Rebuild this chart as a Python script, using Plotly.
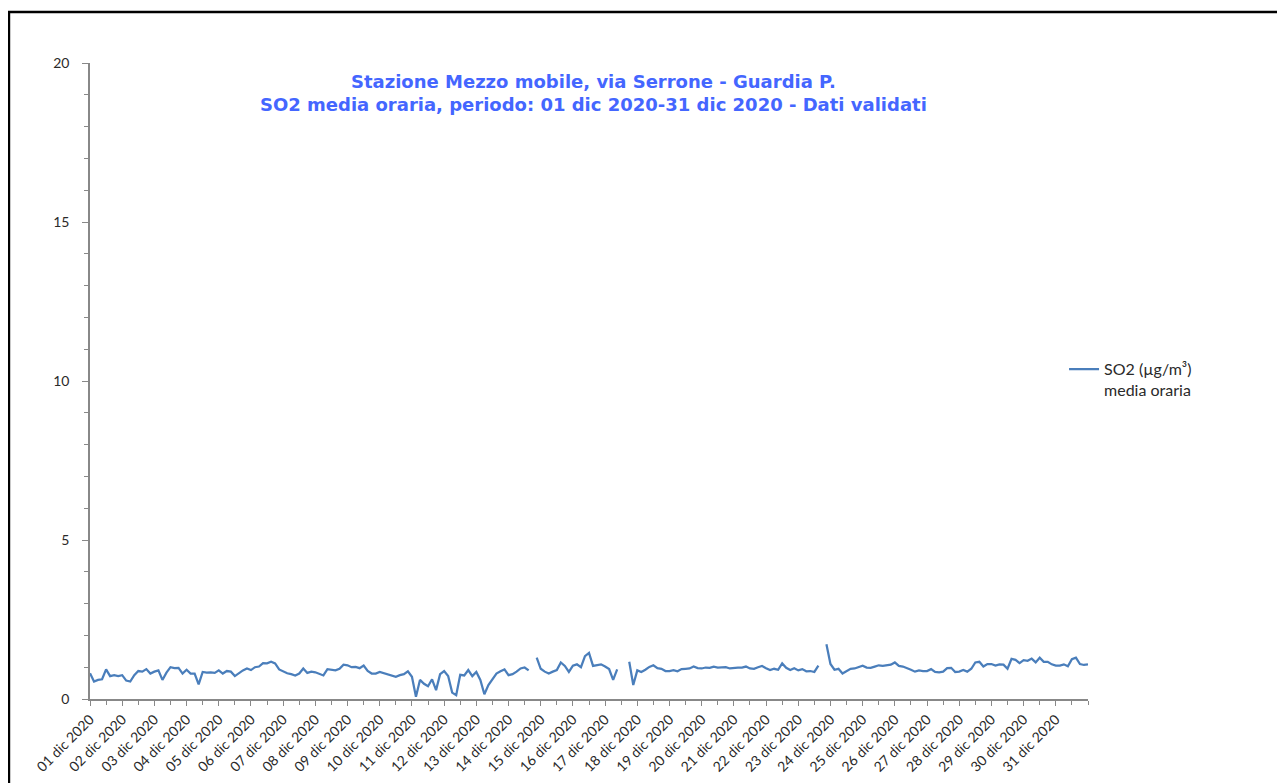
import plotly.graph_objects as go
import pandas as pd

# 3-hourly SO2 readings (µg/m³), 01 dic 2020 00:00 -> 01 gen 2021 00:00
so2_part1 = [0.81, 0.55, 0.60, 0.62, 0.93, 0.72, 0.75, 0.72, 0.75, 0.58, 0.55, 0.75, 0.88, 0.86, 0.94, 0.80,
             0.86, 0.90, 0.60, 0.83, 1.00, 0.97, 0.98, 0.80, 0.92, 0.80, 0.80, 0.46, 0.85, 0.83, 0.84, 0.82,
             0.90, 0.80, 0.88, 0.86, 0.72, 0.82, 0.90, 0.96, 0.91, 1.00, 1.02, 1.13, 1.12, 1.17, 1.12, 0.93,
             0.86, 0.81, 0.78, 0.74, 0.80, 0.96, 0.82, 0.86, 0.84, 0.80, 0.74, 0.94, 0.91, 0.90, 0.95, 1.08]
so2_part2 = [1.06, 1.00, 1.01, 0.97, 1.05, 0.88, 0.80, 0.80, 0.85, 0.81, 0.76, 0.74, 0.70, 0.75, 0.78, 0.87,
             0.70, 0.07, 0.60, 0.48, 0.40, 0.62, 0.28, 0.78, 0.88, 0.72, 0.20, 0.12, 0.76, 0.74, 0.91, 0.72,
             0.85, 0.60, 0.15, 0.44, 0.62, 0.80, 0.87, 0.93, 0.75, 0.78, 0.86, 0.96, 0.99, 0.90, None, 1.30,
             0.95, 0.86, 0.80, 0.86, 0.91, 1.15, 1.04, 0.85, 1.05, 1.09, 1.00, 1.35, 1.45, 1.04, 1.07, 1.09]
so2_part3 = [1.02, 0.94, 0.60, 0.93, None, None, 1.17, 0.44, 0.90, 0.85, 0.92, 1.01, 1.06, 0.97, 0.95, 0.88,
             0.88, 0.91, 0.87, 0.94, 0.95, 0.96, 1.02, 0.97, 0.96, 0.99, 0.98, 1.02, 0.99, 1.00, 1.00, 0.96,
             0.98, 0.99, 0.99, 1.02, 0.96, 0.95, 1.00, 1.04, 0.97, 0.91, 0.95, 0.92, 1.12, 0.98, 0.91, 0.97,
             0.90, 0.94, 0.87, 0.88, 0.85, 1.05, None, 1.72, 1.10, 0.92, 0.95, 0.80, 0.88, 0.95, 0.96]
so2_part4 = [1.00, 1.05, 0.99, 0.98, 1.02, 1.06, 1.04, 1.06, 1.08, 1.15, 1.04, 1.02, 0.98, 0.92, 0.86, 0.90,
             0.88, 0.88, 0.94, 0.85, 0.84, 0.86, 0.97, 0.98, 0.85, 0.86, 0.91, 0.86, 0.95, 1.15, 1.17, 1.02,
             1.10, 1.10, 1.05, 1.09, 1.08, 0.95, 1.26, 1.23, 1.13, 1.22, 1.20, 1.27, 1.15, 1.30, 1.17, 1.17,
             1.09, 1.05, 1.05, 1.09, 1.03, 1.25, 1.30, 1.10, 1.07, 1.09]
so2_values = so2_part1 + so2_part2 + so2_part3 + so2_part4

start_time = "2020-12-01 00:00"
step_hours = 3
times = pd.date_range(start_time, periods=len(so2_values), freq=f"{step_hours}h")

day_ticks = pd.date_range("2020-12-01", "2020-12-31", freq="D")
day_labels = [f"{d.day:02d} dic 2020" for d in day_ticks]

title_lines = ["Stazione Mezzo mobile, via Serrone - Guardia P.",
               "SO2 media oraria, periodo: 01 dic 2020-31 dic 2020 - Dati validati"]
series_name = "SO2 (µg/m³)<br>media oraria"

fig = go.Figure()
fig.add_trace(go.Scatter(
    x=times, y=so2_values, mode="lines", name=series_name,
    line=dict(color="#4a7ebb", width=2.25), connectgaps=False,
))

axis_font = dict(family="Lato", size=14, color="#2a2a2a")

fig.update_layout(
    width=1277, height=775,
    margin=dict(l=82, r=197, t=55, b=84, autoexpand=False),
    paper_bgcolor="white", plot_bgcolor="white",
    showlegend=True,
    legend=dict(x=0.976, y=0.502, xanchor="left", yanchor="middle", valign="top",
                font=dict(family="Lato", size=16, color="#2a2a2a"),
                bgcolor="rgba(0,0,0,0)", itemwidth=30, tracegroupgap=0),
    xaxis=dict(
        range=[pd.Timestamp("2020-12-01"), pd.Timestamp("2021-01-01")],
        tickmode="array", tickvals=day_ticks, ticktext=day_labels,
        tickangle=-45, tickfont=axis_font, automargin=False,
        showgrid=False, zeroline=False,
        showline=True, linecolor="#888888", linewidth=1.5,
        ticks="outside", ticklen=5, tickcolor="#888888",
        minor=dict(dtick=12 * 3600 * 1000, tick0="2020-12-01 12:00", ticks="outside",
                   ticklen=4, tickcolor="#888888", showgrid=False),
    ),
    yaxis=dict(
        range=[0, 20], tickmode="linear", tick0=0, dtick=5,
        tickfont=axis_font, showgrid=False, zeroline=False, automargin=False,
        showline=True, linecolor="#888888", linewidth=1.5,
        ticks="outside", ticklen=6, tickcolor="#888888", ticklabelstandoff=10,
        minor=dict(dtick=1, ticks="outside", ticklen=4, tickcolor="#888888", showgrid=False),
    ),
)

fig.add_annotation(
    text="<b>" + title_lines[0] + "</b><br><b>" + title_lines[1] + "</b>",
    xref="paper", yref="paper", x=0.505, y=0.99, xanchor="center", yanchor="top",
    showarrow=False, align="center",
    font=dict(family="DejaVu Sans", size=18, color="#4466ff"),
)

fig.add_shape(type="rect", xref="paper", yref="paper",
              x0=-0.0812, x1=1.1954, y0=-0.15, y1=1.0802,
              line=dict(color="black", width=2.5), fillcolor="rgba(0,0,0,0)", layer="below")

fig.write_html("out.html")
